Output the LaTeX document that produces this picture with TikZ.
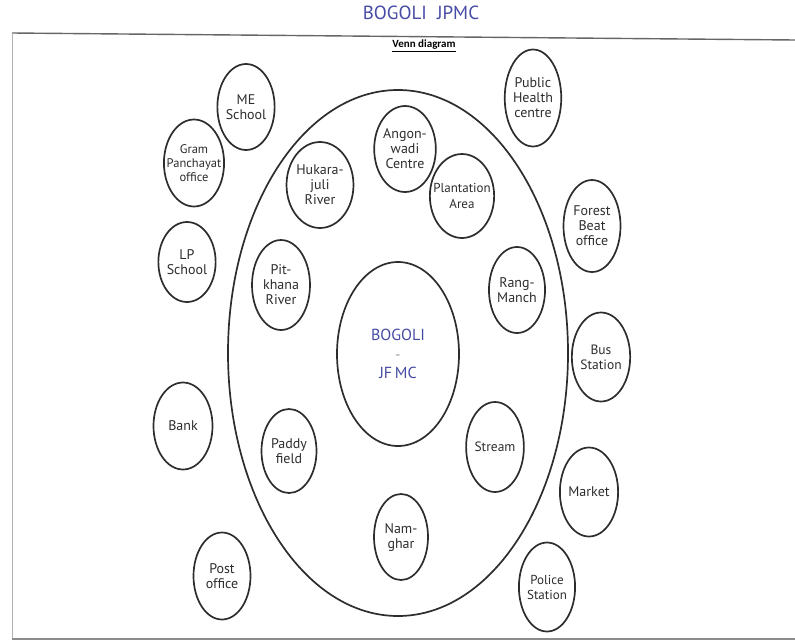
\documentclass[tikz,border=0pt]{standalone}
\usepackage{fontspec}
\setmainfont{PT Sans}
\newfontfamily\calibri{Carlito}
\usetikzlibrary{shapes.geometric}
\definecolor{ink}{RGB}{45,45,45}
\definecolor{blueink}{RGB}{70,75,165}
\tikzset{
  place/.style={draw=ink, line width=1.7pt, ellipse, inner sep=0pt,
    align=center, text=ink, font=\fontsize{14}{15}\selectfont},
  frameline/.style={draw=black!60, line width=1.4pt},
}
\begin{document}
\begin{tikzpicture}[x=1pt,y=-1pt]
\useasboundingbox (0,0) rectangle (795,643);
% page frame
\coordinate (tl) at (12,33);
\coordinate (tr) at (795,40);
\coordinate (bl) at (12,639);
\coordinate (br) at (795,639);
\draw[frameline] (tl) -- (tr);
\draw[draw=black!30, line width=1pt] (tl) -- (bl);
\draw[draw=black!45, line width=1.4pt] (bl) -- (br);
% titles
\node[text=blueink, font=\fontsize{19}{20}\selectfont] (title) at (421,13) {BOGOLI\ \ JPMC};
\node[font=\calibri\bfseries\fontsize{11}{12}\selectfont] (venn) at (424,46) {\underline{Venn diagram}};
% big ellipse
\node[draw=ink, line width=1.7pt, ellipse, minimum width=340pt, minimum height=526pt, inner sep=0pt] (outer) at (398,353) {};
% centre
\node[draw=ink, line width=1.7pt, ellipse, minimum width=122pt, minimum height=184pt, inner sep=0pt,
  text=blueink, align=center, font=\fontsize{16}{21}\selectfont] (centre) at (398,354)
  {BOGOLI\\[-2pt]{\color{black!45}\fontsize{14}{14}\selectfont -}\\[-2pt]JF\,MC};
% inner places
\node[place, minimum width=56pt, minimum height=86pt] (angon) at (405,149) {Angon-\\wadi\\Centre};
\node[place, minimum width=58pt, minimum height=86pt] (hukara) at (320,185) {Hukara-\\juli\\River};
\node[place, minimum width=56pt, minimum height=84pt, inner sep=-6pt, font=\fontsize{13}{16}\selectfont] (plant) at (462,196) {Plantation\\Area};
\node[place, minimum width=58pt, minimum height=90pt] (pit) at (281,285) {Pit-\\khana\\River};
\node[place, minimum width=55pt, minimum height=86pt] (rang) at (517,290) {Rang-\\Manch};
\node[place, minimum width=55pt, minimum height=84pt] (paddy) at (289,451) {Paddy\\field};
\node[place, minimum width=55pt, minimum height=90pt, font=\fontsize{13.5}{15}\selectfont] (stream) at (495,447) {Stream};
\node[place, minimum width=54pt, minimum height=86pt] (nam) at (401,537) {Nam-\\ghar};
% outer places
\node[place, minimum width=56pt, minimum height=86pt] (me) at (246,107) {ME\\School};
\node[place, minimum width=57pt, minimum height=87pt, inner sep=-6pt, font=\fontsize{12.5}{14}\selectfont] (gram) at (194,163) {Gram\\Panchayat\\office};
\node[place, minimum width=57pt, minimum height=80pt] (lp) at (187,262) {LP\\School};
\node[place, minimum width=59pt, minimum height=87pt] (bank) at (183,426) {Bank};
\node[place, minimum width=57pt, minimum height=87pt] (post) at (222,576) {Post\\office};
\node[place, minimum width=56pt, minimum height=97pt] (health) at (533,98) {Public\\Health\\centre};
\node[place, minimum width=57pt, minimum height=92pt] (forest) at (592,226) {Forest\\Beat\\office};
\node[place, minimum width=58pt, minimum height=89pt, font=\fontsize{13.5}{15}\selectfont] (bus) at (601,357) {Bus\\Station};
\node[place, minimum width=57pt, minimum height=89pt] (market) at (589,492) {Market};
\node[place, minimum width=52pt, minimum height=89pt, font=\fontsize{13}{15}\selectfont] (police) at (547,587) {Police\\Station};
\end{tikzpicture}
\end{document}
